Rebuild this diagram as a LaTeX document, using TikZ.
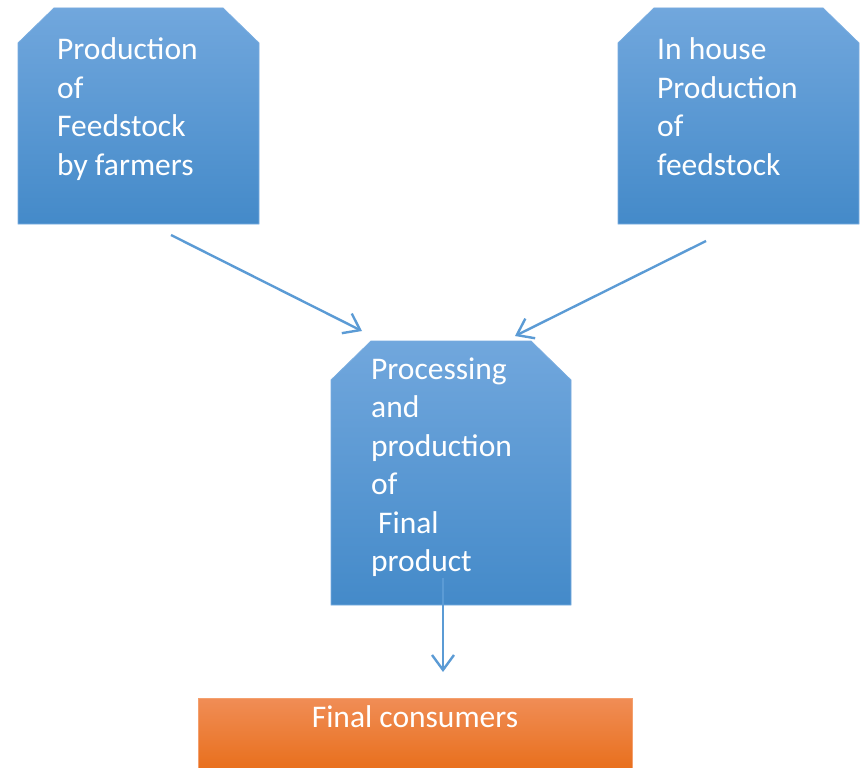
\documentclass[tikz,border=0pt]{standalone}
\usepackage{fontspec}
\setmainfont{Carlito}
\usetikzlibrary{arrows.meta,calc}
\definecolor{btop}{RGB}{113,167,221}
\definecolor{bmid}{RGB}{88,155,218}
\definecolor{bbot}{RGB}{68,138,201}
\definecolor{bedge}{RGB}{120,172,224}
\definecolor{otop}{RGB}{240,141,86}
\definecolor{obot}{RGB}{232,110,26}
\definecolor{oedge}{RGB}{244,160,110}
\definecolor{arr}{RGB}{91,155,213}
\newcommand\normsp{\spaceskip=0pt\relax\xspaceskip=0pt\relax}
\begin{document}
\begin{tikzpicture}[x=1pt,y=-1pt,
  area/.style={rectangle, inner sep=0pt, outer sep=0pt},
  bluefill/.style={top color=btop, middle color=bmid, bottom color=bbot, draw=bedge, line width=0.8pt},
  orangefill/.style={top color=otop, bottom color=obot, draw=oedge, line width=0.8pt},
  txt/.style={text=white, inner sep=0pt, align=left, text width=200pt,
    font=\fontsize{31.5}{38.5}\selectfont},
  otxt/.style={text=white, inner sep=0pt, font=\fontsize{31.5}{38.5}\selectfont},
  conn/.style={draw=arr, line width=2.4pt, -{Straight Barb[length=15pt,width=22pt]}}
]
\useasboundingbox (0,0) rectangle (860,768);
\fill[white] (0,0) rectangle (860,768);

% box areas
\node[area, minimum width=241pt, minimum height=216pt] (b1) at (138.5,116) {};
\node[area, minimum width=241pt, minimum height=216pt] (b2) at (738.5,116) {};
\node[area, minimum width=240pt, minimum height=264pt] (b3) at (451,473) {};
\node[area, minimum width=434pt, minimum height=74pt] (b4) at (415,735) {};

% chamfered shapes
\shade[bluefill] (b1.south west) -- ($(b1.north west)+(0,35)$) -- ($(b1.north west)+(36,0)$)
  -- ($(b1.north east)+(-36,0)$) -- ($(b1.north east)+(0,35)$) -- (b1.south east) -- cycle;
\shade[bluefill] (b2.south west) -- ($(b2.north west)+(0,35)$) -- ($(b2.north west)+(36,0)$)
  -- ($(b2.north east)+(-36,0)$) -- ($(b2.north east)+(0,35)$) -- (b2.south east) -- cycle;
\shade[bluefill] (b3.south west) -- ($(b3.north west)+(0,39)$) -- ($(b3.north west)+(40,0)$)
  -- ($(b3.north east)+(-40,0)$) -- ($(b3.north east)+(0,39)$) -- (b3.south east) -- cycle;
\shade[orangefill] (b4.north west) rectangle (b4.south east);

% texts
\node[txt, anchor=base west] (t1) at ($(b1.north west)+(39,52)$) {\normsp Production\\of\\Feedstock\\by farmers};
\node[txt, anchor=base west] (t2) at ($(b2.north west)+(39,52)$) {\normsp In house\\Production\\of\\feedstock};
\node[txt, anchor=base west] (t3) at ($(b3.north west)+(40,38)$) {\normsp Processing\\and\\production\\of\\\hspace*{0.22em}Final\\product};
\node[otxt, anchor=base] (t4) at ($(b4.north)+(0,29)$) {Final consumers};

% connectors
\coordinate (a1s) at ($(b1.south)+(32.5,11)$);
\coordinate (a1e) at ($(b3.north)+(-89,-10)$);
\coordinate (a2s) at ($(b2.south)+(-32.5,17)$);
\coordinate (a2e) at ($(b3.north)+(64,-5)$);
\coordinate (a3s) at ($(b3.south)+(-8,-27)$);
\coordinate (a3e) at ($(b3.south)+(-8,67)$);
\draw[conn] (a1s) -- (a1e);
\draw[conn] (a2s) -- (a2e);
\draw[conn] (a3s) -- (a3e);
\end{tikzpicture}
\end{document}
